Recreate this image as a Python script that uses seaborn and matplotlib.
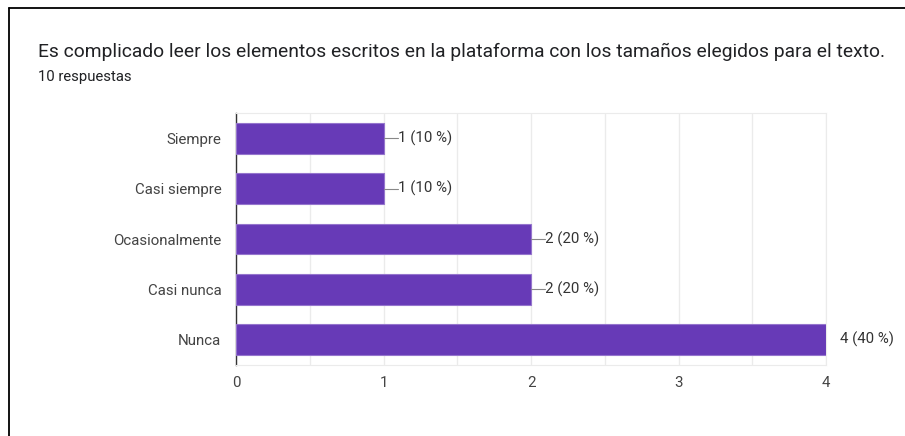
import matplotlib
matplotlib.use("Agg")
import matplotlib.pyplot as plt
import seaborn as sns
import pandas as pd
from matplotlib.lines import Line2D

categories = ["Siempre", "Casi siempre", "Ocasionalmente", "Casi nunca", "Nunca"]
counts = [1, 1, 2, 2, 4]
labels = ["1 (10 %)", "1 (10 %)", "2 (20 %)", "2 (20 %)", "4 (40 %)"]
xticks = [0, 1, 2, 3, 4]
title = "Es complicado leer los elementos escritos en la plataforma con los tamaños elegidos para el texto."
subtitle = "10 respuestas"

sns.set_style("white")
plt.rcParams["font.family"] = ["Roboto", "DejaVu Sans"]

W, H = 905, 436
fig = plt.figure(figsize=(W / 100, H / 100), dpi=100)
ax = fig.add_axes([236 / W, 1 - 365 / H, (826 - 236) / W, (365 - 113) / H])

df = pd.DataFrame({"cat": categories, "n": counts})
sns.barplot(data=df, x="n", y="cat", orient="h", color="#673AB7", saturation=1,
            width=0.61, edgecolor="#9575CD", linewidth=0.8, ax=ax, zorder=3)

ax.set_xlim(0, 4)
ax.set_ylim(4.5, -0.5)
ax.set_xticks(xticks)
ax.set_xticks([0.5, 1.5, 2.5, 3.5], minor=True)
ax.set_xticklabels([str(t) for t in xticks])
ax.grid(axis="x", which="both", color="#ebebeb", linewidth=1, zorder=0)
ax.set_xlabel("")
ax.set_ylabel("")
ax.tick_params(axis="both", which="both", length=0, labelsize=10.8, labelcolor="#444444")
ax.tick_params(axis="y", pad=10.5)
ax.tick_params(axis="x", pad=8)
for s in ["top", "right", "bottom"]:
    ax.spines[s].set_color("#ebebeb")
ax.spines["left"].set_color("#333333")
ax.spines["left"].set_linewidth(1.0)
ax.set_axisbelow(True)

for i, (v, lab) in enumerate(zip(counts, labels)):
    if v < 4:
        ax.plot([v, v + 0.095], [i, i], color="#888888", lw=0.8, zorder=4)
    ax.text(v + 0.097, i, lab, va="center", ha="left", fontsize=10.8,
            color="#333333", clip_on=False)

fig.text(38 / W, 1 - 52 / H, title, fontsize=13.9, color="#202124", va="center", ha="left")
fig.text(38 / W, 1 - 77 / H, subtitle, fontsize=10.7, color="#202124", va="center", ha="left")

# outer frame
fig.add_artist(Line2D([9 / W, 9 / W], [0, 1 - 8 / H], transform=fig.transFigure, color="black", lw=1.3))
fig.add_artist(Line2D([9 / W, 1], [1 - 8 / H, 1 - 8 / H], transform=fig.transFigure, color="black", lw=1.3))

fig.savefig("out.png", dpi=100)
